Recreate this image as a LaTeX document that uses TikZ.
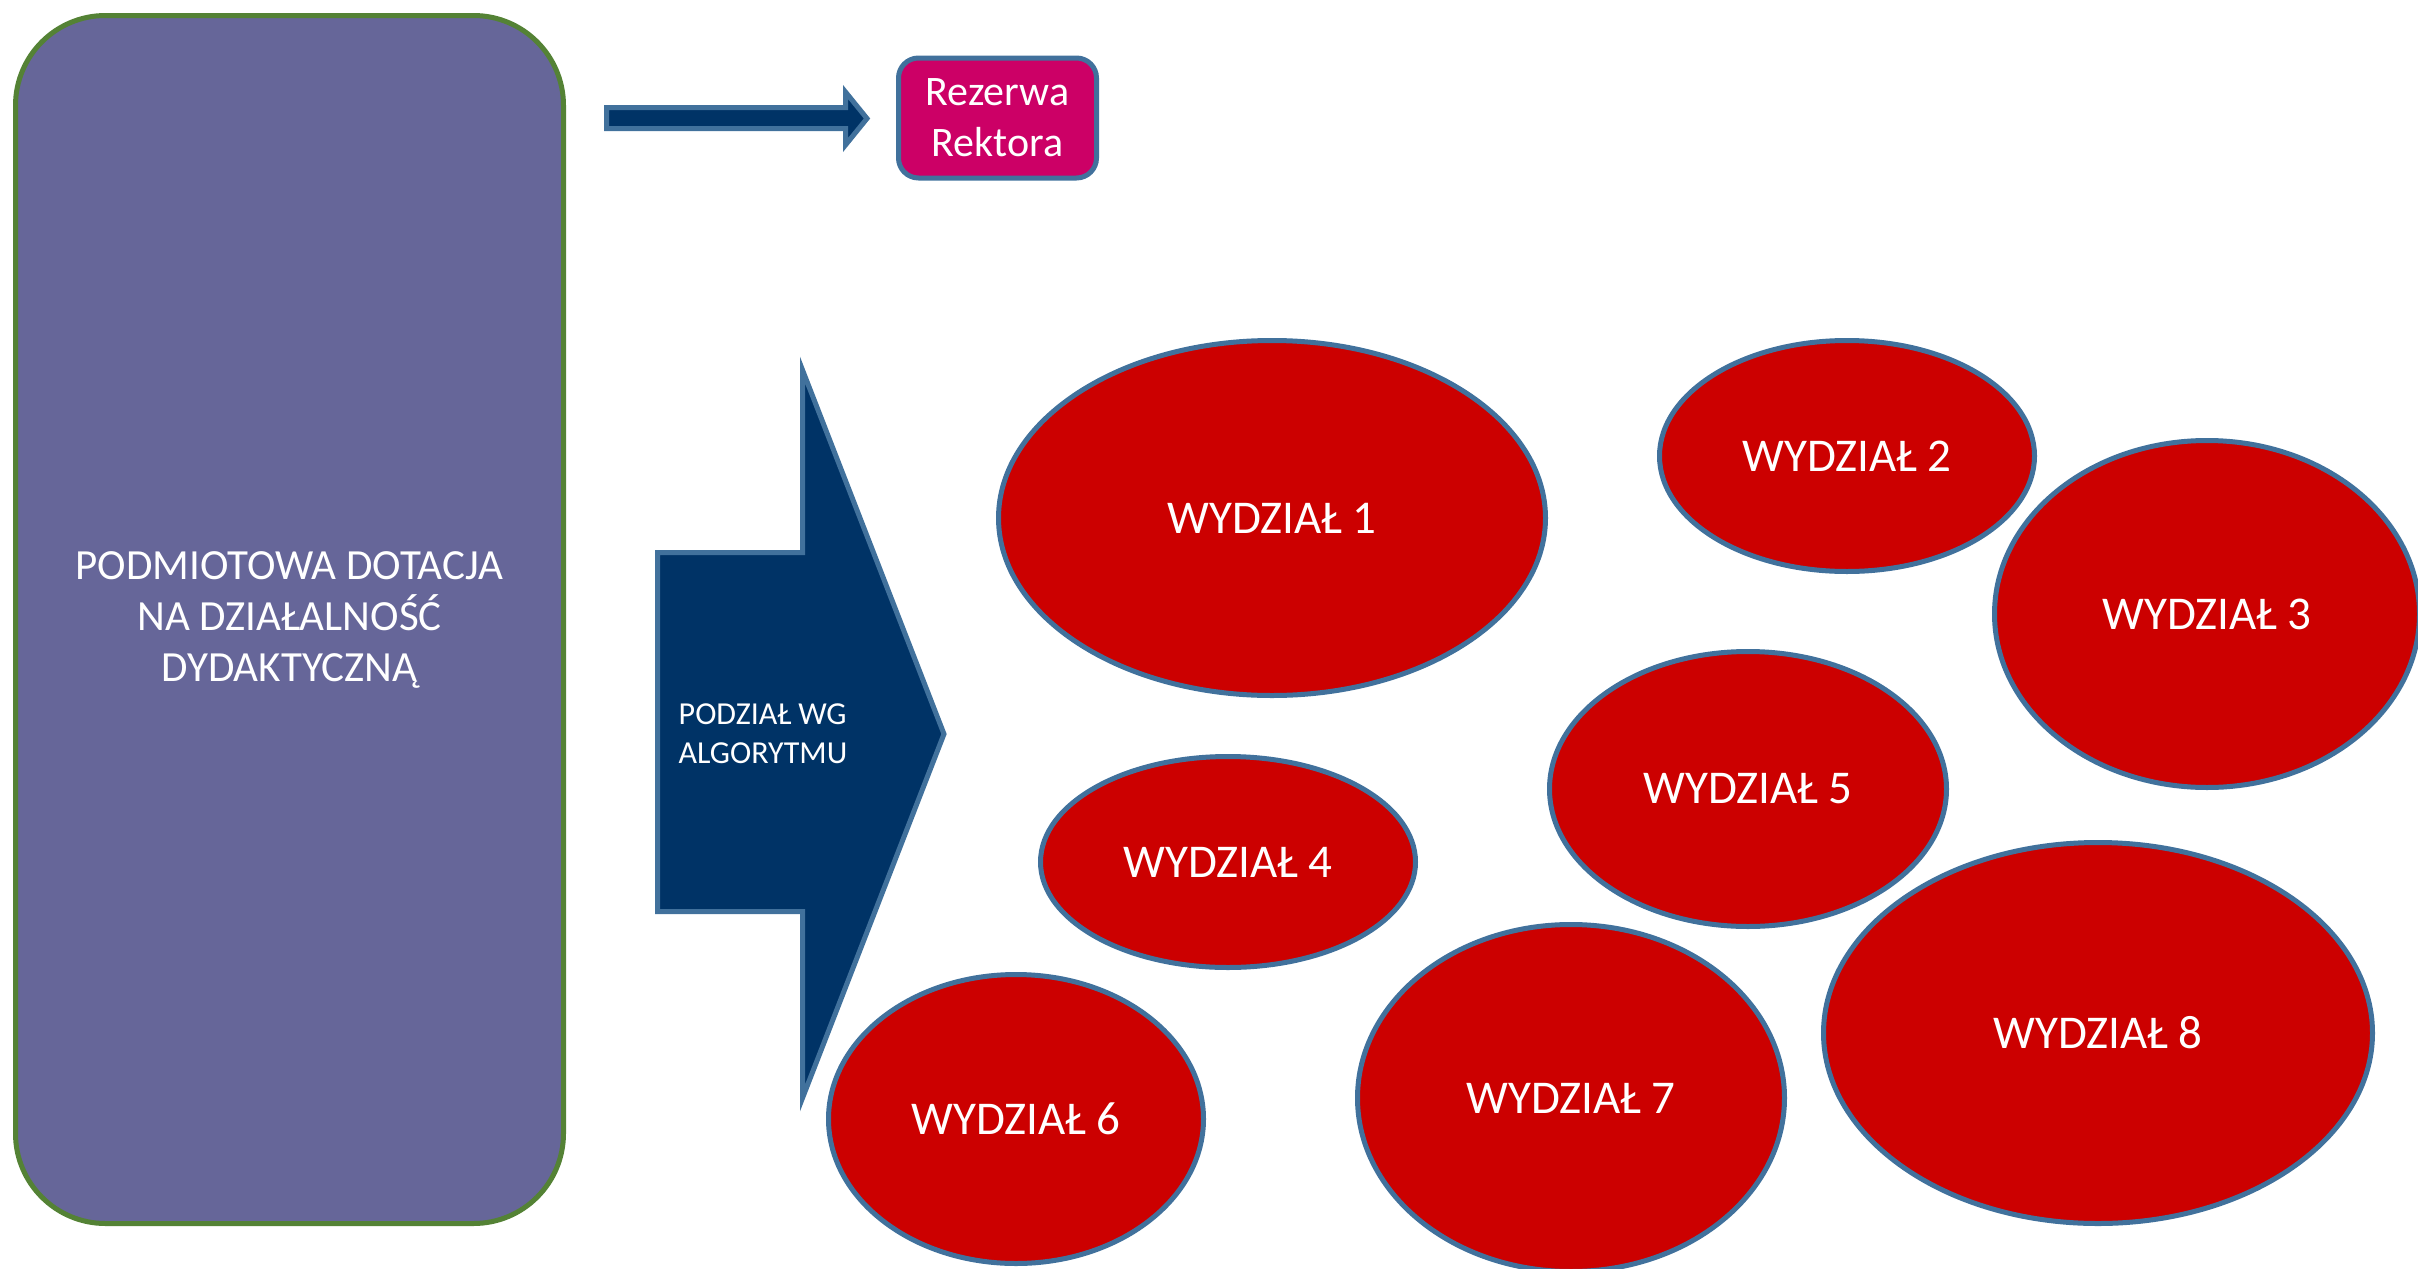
\documentclass[tikz,border=0pt]{standalone}
\usepackage{fontspec}
\setmainfont{Carlito}
\usetikzlibrary{shapes.geometric}
\definecolor{dotacja}{RGB}{102,102,153}
\definecolor{zielony}{RGB}{84,130,53}
\definecolor{granat}{RGB}{0,51,102}
\definecolor{ramka}{RGB}{65,113,156}
\definecolor{rezerwa}{RGB}{204,0,102}
\definecolor{czerwony}{RGB}{204,0,0}
\begin{document}
\begin{tikzpicture}[x=1pt, y=-1pt, line width=5pt,
wydzial/.style={ellipse, draw=ramka, fill=czerwony, text=white, inner sep=0pt,
  font=\fontsize{47}{56}\selectfont},
strzalka/.style={draw=ramka, fill=granat, line join=miter}]
\useasboundingbox (0,0) rectangle (2418,1269);

\node[draw=zielony, fill=dotacja, rounded corners=90pt, minimum width=548pt,
  minimum height=1208pt, text=white, align=center,
  font=\fontsize{43}{51}\selectfont] (dotacja) at (289.5,619.5)
  {PODMIOTOWA DOTACJA\\NA DZIAŁALNOŚĆ\\DYDAKTYCZNĄ};

\node[draw=ramka, fill=rezerwa, rounded corners=20pt, minimum width=198pt,
  minimum height=120pt, text=white, align=center,
  font=\fontsize{42}{51}\selectfont] (rezerwa) at (997.5,118) {Rezerwa\\Rektora};

% strzalka do rezerwy
\draw[strzalka] (606.5,107.5) -- (845.5,107.5) -- (845.5,92) -- (867,118.5)
  -- (845.5,145) -- (845.5,128.5) -- (606.5,128.5) -- cycle;

% strzalka podzialu
\draw[strzalka] (657.5,552.5) -- (802.5,552.5) -- (802.5,370) -- (944,734)
  -- (802.5,1098) -- (802.5,911.5) -- (657.5,911.5) -- cycle;
\node[text=white, align=left, font=\fontsize{32}{39}\selectfont] (podzial)
  at (763,734) {PODZIAŁ WG\\ALGORYTMU};

\foreach \n/\x/\y/\w/\h in {1/1272/518/547/355, 2/1847/456/375/231,
  3/2207/614/425/347, 4/1228/862/375/211, 5/1748/789/397/275,
  6/1016/1119/375/289, 7/1571/1098/427/347, 8/2098/1033/549/381}
  \node[wydzial, minimum width=\w pt, minimum height=\h pt] (w\n) at (\x,\y) {WYDZIAŁ \n};

\end{tikzpicture}
\end{document}
